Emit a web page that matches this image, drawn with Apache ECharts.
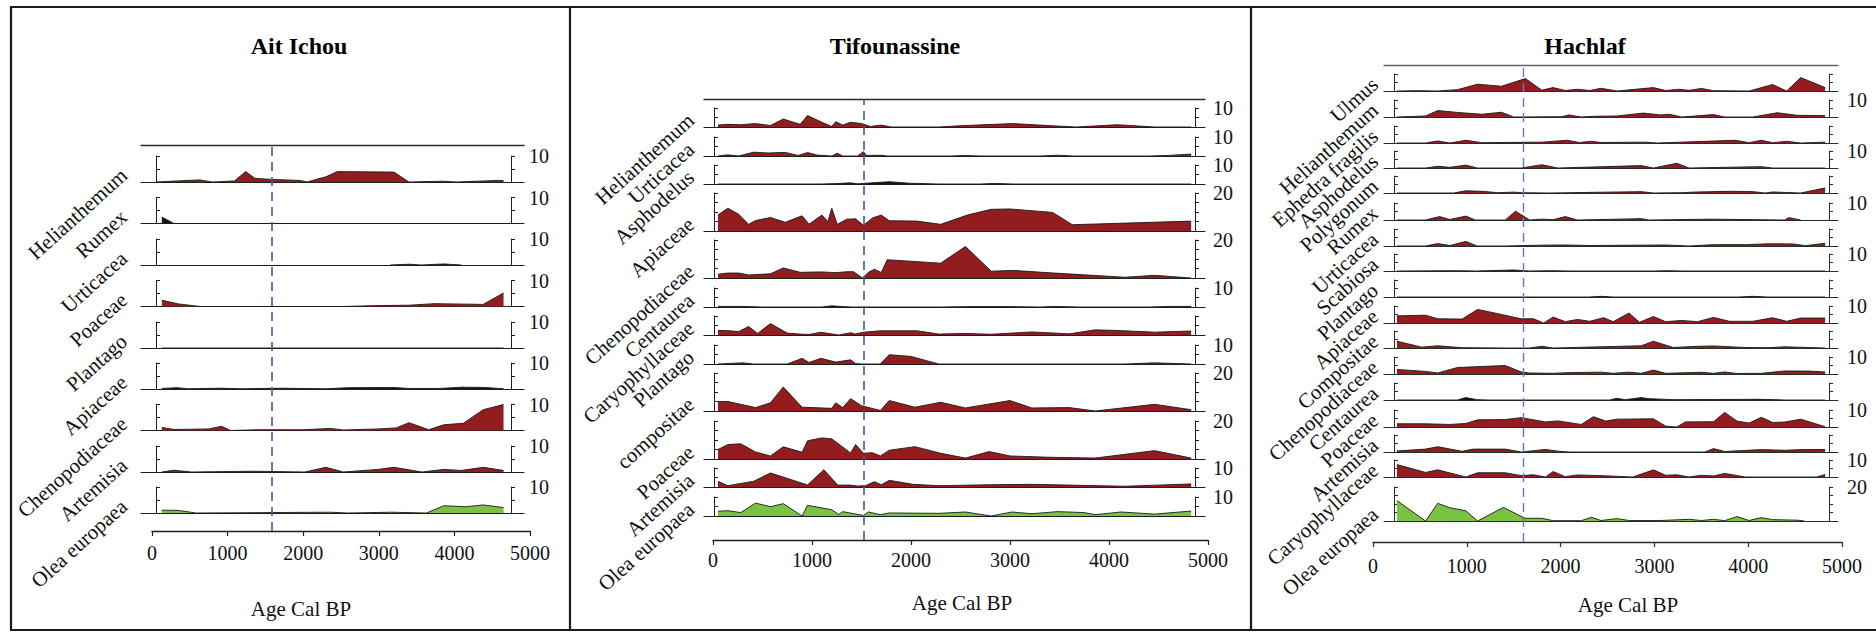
<!DOCTYPE html>
<html><head><meta charset="utf-8">
<script src="https://cdn.jsdelivr.net/npm/echarts@6/dist/echarts.min.js"></script>
<style>html,body{margin:0;padding:0;background:#fff}#c{width:1876px;height:632px}</style>
</head><body><div id="c"></div>
<script>
// ---------------- DATA ----------------
const ageTicks = [0, 1000, 2000, 3000, 4000, 5000];
const xAxisTitle = 'Age Cal BP';

// Ait Ichou
const aitIchouTaxa = ['Helianthemum','Rumex','Urticacea','Poaceae','Plantago','Apiaceae','Chenopodiaceae','Artemisia','Olea europaea'];
const aitIchouScales = [10,10,10,10,10,10,10,10,10];
const aitIchouScaleShown = [1,1,1,1,1,1,1,1,1];
const aitIchouColors = ['r','k','k','r','k','k','r','r','g'];
const aitIchouBoundary = 1585;
const aiHelianthemum = [[60,0],[250,0.3],[630,0.8],[800,0],[1090,0.4],[1240,4],[1360,1.4],[1580,1],[1960,0.6],[2050,0],[2300,2],[2450,4],[3200,3.8],[3400,0],[3850,0.3],[4030,0],[4570,0.6],[4650,0.6]];
const aiRumex = [[130,2.5],[290,0],[4650,0]];
const aiUrticacea = [[3150,0],[3400,0.3],[3560,0],[3860,0.4],[4090,0]];
const aiPoaceae = [[130,2.4],[350,1],[640,0],[2530,0],[2880,0.3],[3400,0.5],[3740,1.1],[4380,0.8],[4650,5.2]];
const aiPlantago = [[130,0],[4650,0]];
const aiApiaceae = [[130,0.2],[330,0.5],[470,0.1],[900,0.3],[1200,0.1],[1700,0.3],[2300,0.1],[2600,0.5],[3200,0.6],[3400,0.2],[3800,0.2],[4100,0.7],[4400,0.6],[4650,0.1]];
const aiChenopodiaceae = [[130,1.2],[290,0.4],[750,0.6],[920,1.6],[1040,0],[1400,0.3],[2000,0.3],[2360,0.8],[2530,0.2],[2990,0.6],[3230,1],[3400,3],[3660,0.3],[3860,2.2],[4120,2.8],[4380,8],[4650,10]];
const aiArtemisia = [[130,0],[290,0.7],[520,0],[1330,0.3],[2020,0],[2300,1.8],[2530,0],[2990,1],[3200,1.8],[3570,0],[3860,1],[4090,0.6],[4380,1.8],[4650,0.6]];
const aiOlea = [[130,1.1],[350,1],[580,0],[2360,0.3],[2590,0],[3170,0.3],[3630,0],[3860,2.8],[4150,2.4],[4380,3.1],[4650,2.1]];

// Tifounassine
const tifounassineTaxa = ['Helianthemum','Urticacea','Asphodelus','Apiaceae','Chenopodiaceae','Centaurea','Caryophyllaceae','Plantago','compositae','Poaceae','Artemisia','Olea europaea'];
const tifounassineScales = [10,10,10,20,20,10,10,10,20,20,10,10];
const tifounassineScaleShown = [1,1,1,1,1,1,0,1,1,1,1,1];
const tifounassineColors = ['r','r','k','r','r','k','r','r','r','r','r','g'];
const tifounassineBoundary = 1525;
const tfHelianthemum = [[50,1],[150,1.4],[280,1.2],[430,1.8],[580,0.8],[710,4.2],[880,1.4],[955,6],[1100,2.5],[1200,0.3],[1240,2.8],[1310,1],[1390,2.5],[1500,1.8],[1590,0.3],[1700,1],[1800,0],[2280,0],[2510,0.7],[3030,1.8],[3410,0.7],[3670,0],[4080,1.2],[4460,0],[4830,0]];
const tfUrticacea = [[50,0],[150,0.6],[260,0],[410,2],[560,1.6],[730,1.9],[860,0.3],[955,1.8],[1050,0.5],[1200,0],[1255,1.5],[1310,0],[1460,0],[1520,2.3],[1550,0.3],[1700,0.4],[1760,0],[2400,0],[2550,0.3],[2700,0],[3300,0],[3480,0.4],[3650,0],[4400,0],[4600,0.3],[4830,1]];
const tfAsphodelus = [[50,0],[1100,0],[1240,0.2],[1390,0.6],[1460,0.1],[1780,1.2],[1990,0.4],[2280,0],[2700,0],[2850,0.3],[3030,0],[4830,0]];
const tfApiaceae = [[50,8.4],[150,12],[260,8.8],[360,3.5],[430,5.5],[580,7.1],[730,4.6],[900,8],[970,3.6],[1100,8.4],[1160,5],[1200,12],[1255,3.5],[1350,6.2],[1440,6.4],[1520,3],[1610,6.8],[1700,8.4],[1780,5.4],[2060,5.2],[2300,3.5],[2570,8.4],[2810,11.4],[3000,11.6],[3430,9.8],[3630,3.3],[4830,5.2]];
const tfChenopodiaceae = [[50,2],[150,2.6],[260,2.6],[360,1.6],[580,2.2],[710,5.3],[880,3],[1100,3.2],[1240,2.8],[1350,3.3],[1420,3.3],[1510,0],[1570,3],[1630,4.6],[1700,2.9],[1760,9.6],[2300,7.8],[2550,16.6],[2810,3.6],[3030,4],[3410,2.7],[4160,0.4],[4460,1.4],[4830,0]];
const tfCentaurea = [[50,0.3],[300,0.3],[500,0],[1100,0],[1200,0.6],[1310,0.2],[1400,0],[2300,0],[2600,0.2],[3000,0.2],[3300,0],[3450,0.3],[3700,0],[4400,0],[4600,0.3],[4830,0.3]];
const tfCaryophyllaceae = [[50,2.4],[150,2.3],[260,1.8],[360,4.5],[450,0.8],[580,6],[750,1],[900,0.4],[970,0.3],[1090,1.4],[1270,0],[1390,1.2],[1440,0.5],[1520,1.5],[1690,2.2],[2060,2.2],[2280,0.5],[2550,0.8],[2810,0.4],[3220,1.6],[3600,0.6],[3860,2.7],[4080,2.4],[4460,1.5],[4830,2.1]];
const tfPlantago = [[50,0],[300,0.6],[410,0],[750,0],[900,3],[970,0.8],[1090,3],[1240,1],[1390,2.2],[1440,0.2],[1500,0],[1690,0],[1780,4.9],[2000,4],[2280,0],[4160,0],[4460,0.6],[4830,0]];
const tfCompositae = [[50,5],[150,5],[430,1.8],[580,4.3],[710,12.6],[900,2],[1200,1.4],[1240,4.3],[1310,1.8],[1390,6.5],[1500,2.8],[1690,0.3],[1780,5.5],[2040,2],[2300,4.6],[2550,1.6],[3000,5.5],[3220,1.6],[3600,1.8],[3860,0],[4460,3.5],[4830,0.7]];
const tfPoaceae = [[50,5],[150,7.6],[280,8],[430,3.7],[580,1.6],[710,6.4],[900,3.6],[955,9.6],[1100,11.1],[1200,10.6],[1390,3.2],[1440,7.6],[1520,3],[1610,3.3],[1690,1.6],[1780,4.6],[2040,6.5],[2300,3],[2550,0.5],[2790,3.9],[3000,1.6],[3410,0.9],[3860,0.5],[4460,4.4],[4830,0.5]];
const tfArtemisia = [[50,3],[150,0.7],[410,3],[580,7.4],[955,1.1],[1120,9.1],[1260,1],[1390,1],[1460,0.5],[1540,0.7],[1630,2.8],[1700,1.2],[1780,3.5],[2020,1.4],[2280,0.7],[2810,1.2],[3220,1.4],[4160,0.4],[4830,1.6]];
const tfOlea = [[50,2.5],[150,2.8],[280,1.8],[430,6.8],[580,4.9],[710,6.5],[900,0],[955,5.6],[1200,3.3],[1270,0.8],[1310,2.3],[1520,0.3],[1570,2.1],[1690,0.7],[1780,1.6],[2280,1.4],[2550,2.1],[2810,0],[3020,2.1],[3220,1.2],[3480,2.3],[3750,1.8],[3860,0.7],[4120,2.1],[4460,1],[4830,2.6]];

// Hachlaf
const hachlafTaxa = ['Ulmus','Helianthemum','Ephedra fragilis','Asphodelus','Polygonum','Rumex','Urticacea','Scabiosa','Plantago','Apiaceae','Compositae','Chenopodiaceae','Centaurea','Poaceae','Artemisia','Caryophyllaceae','Olea europaea'];
const hachlafScales = [10,10,10,10,10,10,10,10,10,10,10,10,10,10,10,10,20];
const hachlafScaleShown = [0,1,0,1,0,1,0,1,0,1,0,1,0,1,0,1,1];
const hachlafColors = ['r','r','r','r','r','r','r','k','k','r','r','r','k','r','r','r','g'];
const hachlafBoundary = 1600;
const hcUlmus = [[255,0],[480,0.2],[690,0],[900,0.8],[1115,4],[1370,2.8],[1625,7.3],[1800,0.5],[1920,2],[2050,0.3],[2180,1],[2310,0.3],[2430,1.6],[2600,0],[2990,2],[3120,0.3],[3260,1],[3370,0.4],[3500,1.5],[3630,0.2],[4010,0],[4260,3.8],[4410,0],[4560,7.9],[4820,2]];
const hcHelianthemum = [[255,0],[560,0.6],[690,3.8],[900,2.7],[1160,1.6],[1370,2.8],[1500,0],[2010,0.2],[2090,1.2],[2220,0],[2350,0.4],[2600,0.6],[2880,2.3],[3070,1.2],[3160,1.6],[3290,0],[3630,1.4],[3750,0],[4050,0],[4310,2.5],[4520,1],[4820,0.8]];
const hcEphedra = [[255,0],[560,0],[690,1.2],[820,0],[990,1.6],[1160,0.2],[1580,0.4],[1800,0.5],[2070,1.6],[2200,0.3],[2330,1],[2430,0.3],[2900,0.5],[3030,0],[3860,1.6],[4010,0.2],[4140,1.6],[4260,0.2],[4410,1],[4560,0],[4820,0.5]];
const hcAsphodelus = [[255,0],[560,0],[690,1],[820,0.4],[990,1.7],[1110,0],[1580,0],[1800,1.9],[1970,0],[2860,1.4],[2990,0],[3240,2.8],[3370,0],[4140,0.8],[4260,0],[4820,0]];
const hcPolygonum = [[255,0],[860,0],[990,1.3],[1160,1],[1330,0.2],[1500,0.5],[1580,0.2],[1880,0],[2860,0.8],[2990,0],[3290,0.2],[3460,0.6],[3800,1],[4050,0.8],[4180,0],[4260,0.6],[4560,0],[4820,3]];
const hcRumex = [[255,0],[560,0],[710,2],[820,0.3],[990,2.3],[1090,0],[1410,0],[1520,5.2],[1670,0],[1800,0.5],[1920,0.2],[2050,2],[2180,0],[2860,0.8],[2940,0],[3630,0.5],[4390,0],[4430,1.4],[4560,0]];
const hcUrticacea = [[255,0],[560,0],[690,1.4],[820,0.3],[990,2.7],[1110,0],[1410,0],[1800,0.5],[2050,0.6],[2310,0.3],[3120,0.6],[3370,0],[3630,0.8],[3970,0.8],[4220,1.3],[4480,1.2],[4610,0.2],[4820,1.6]];
const hcScabiosa = [[255,0],[900,0.2],[1100,0],[1500,0.6],[1670,0],[1880,0.2],[2100,0],[3000,0],[3120,0.2],[3300,0],[4820,0]];
const hcPlantago = [[255,0],[2300,0],[2430,0.4],[2560,0],[3900,0],[4050,0.4],[4200,0],[4820,0]];
const hcApiaceae = [[255,4.2],[560,4.6],[690,2.5],[950,2.3],[1115,8],[1330,5.5],[1580,2.5],[1710,2.5],[1820,0],[1920,3.5],[2050,0.8],[2180,2.1],[2310,1],[2460,3.1],[2560,0.8],[2730,5.9],[2840,0.4],[2990,3.8],[3120,0.8],[3290,1.5],[3460,0.8],[3630,3.3],[3800,1],[4050,1],[4260,3.1],[4410,1],[4560,2.9],[4820,2.9]];
const hcCompositae = [[255,4],[520,0.5],[690,1.3],[950,0.2],[1410,0],[1670,0],[1800,1],[1920,0],[2860,1.3],[2990,4],[3200,0.3],[3460,1],[3630,1.2],[3970,0.3],[4220,0.2],[4390,0.7],[4820,0]];
const hcChenopodiaceae = [[255,2.7],[560,1.5],[690,0.6],[900,3.8],[1070,4.2],[1410,5],[1580,1.2],[1670,0.6],[1920,0.4],[2090,0.8],[2430,1.1],[2560,0.4],[2730,1.1],[2860,0.4],[2990,2.3],[3120,0.4],[3500,1],[3630,0.4],[3750,1.2],[3880,0.3],[4140,0.4],[4390,1.8],[4650,1.7],[4820,1.2]];
const hcCentaurea = [[255,0],[900,0],[990,1.4],[1110,0.2],[1240,0],[2520,0],[2600,1],[2690,0.2],[2860,1.4],[2940,0.8],[3200,0.2],[3630,0.3],[4140,0.4],[4390,0],[4820,0]];
const hcPoaceae = [[255,1.9],[560,1.9],[820,1.5],[990,2.1],[1115,4.2],[1410,4.4],[1580,5.5],[1840,3],[1970,3.6],[2220,1.5],[2350,6.1],[2480,3.5],[2600,4.6],[2990,4.8],[3120,0.5],[3240,0],[3330,3],[3630,3.1],[3750,8.6],[3880,3.5],[4010,2.3],[4140,5.7],[4260,2.7],[4390,2.9],[4560,4.6],[4820,0.2]];
const hcArtemisia = [[255,0.6],[560,1.7],[690,3.1],[950,0.4],[1070,1.7],[1410,1.7],[1580,0],[1840,1.5],[1970,0.5],[2090,0],[3540,0],[3630,2],[3750,0.3],[4140,1.4],[4390,1],[4560,1.4],[4820,1.5]];
const hcCaryophyllaceae = [[255,7.3],[560,2.7],[690,4.2],[990,0],[1115,2.5],[1410,2.5],[1580,0.8],[1710,1.3],[1840,0],[1920,3.2],[2050,0.2],[2180,1.2],[2430,0.8],[2770,0],[2990,4.2],[3120,1],[3240,1.3],[3370,0],[3500,1],[3630,0.6],[3750,2.1],[3970,0],[4730,0],[4820,1.5]];
const hcOlea = [[255,12],[560,0],[690,10.4],[820,7.8],[990,6],[1115,0],[1390,8],[1620,1.6],[1800,1.6],[1920,0.2],[2220,0.2],[2330,2.2],[2430,0.3],[2600,1.4],[2730,0.3],[3070,0.3],[3370,1],[3500,0.3],[3630,1],[3750,0.2],[3880,2.6],[4010,0.3],[4140,2],[4260,0.8],[4520,0.5],[4600,0]];

// ---------------- LAYOUT / STYLE ----------------
const FONT = '"Liberation Serif","Times New Roman",serif';
const FILL = {r:'#921c1e', k:'#151515', g:'#79c244'};
const LABEL_ANGLE = 42 * Math.PI / 180;

const panels = [
  {title:'Ait Ichou', taxa:aitIchouTaxa, scales:aitIchouScales, shown:aitIchouScaleShown, colors:aitIchouColors, boundary:aitIchouBoundary,
   series:[aiHelianthemum, aiRumex, aiUrticacea, aiPoaceae, aiPlantago, aiApiaceae, aiChenopodiaceae, aiArtemisia, aiOlea],
   L:{titleX:299, age0:152, age5000:530, stripL:141, stripR:524, axL:156, axR:511, topLine:145, axisY:531,
      baselines:[182,223.5,265,306.5,348,389,430.5,472,513], ppu:2.6, labelGap:10, labelOffY:8, tickMargin:12,
      nameX:301, nameY:609, line:'#1e1e1e', top:'#2a2a2a', dash:'#3d5c9c', dashW:1.6}},
  {title:'Tifounassine', taxa:tifounassineTaxa, scales:tifounassineScales, shown:tifounassineScaleShown, colors:tifounassineColors, boundary:tifounassineBoundary,
   series:[tfHelianthemum, tfUrticacea, tfAsphodelus, tfApiaceae, tfChenopodiaceae, tfCentaurea, tfCaryophyllaceae, tfPlantago, tfCompositae, tfPoaceae, tfArtemisia, tfOlea],
   L:{titleX:895, age0:713, age5000:1208, stripL:704, stripR:1205, axL:714, axR:1195, topLine:99, axisY:540,
      baselines:[127,156,184,231,278,307,335,364,411,459,487,516], ppu:1.9, labelGap:6, labelOffY:4, tickMargin:10,
      nameX:962, nameY:603, line:'#1e1e1e', top:'#2a2a2a', dash:'#3d5c9c', dashW:1.6}},
  {title:'Hachlaf', taxa:hachlafTaxa, scales:hachlafScales, shown:hachlafScaleShown, colors:hachlafColors, boundary:hachlafBoundary,
   series:[hcUlmus, hcHelianthemum, hcEphedra, hcAsphodelus, hcPolygonum, hcRumex, hcUrticacea, hcScabiosa, hcPlantago, hcApiaceae, hcCompositae, hcChenopodiaceae, hcCentaurea, hcPoaceae, hcArtemisia, hcCaryophyllaceae, hcOlea],
   L:{titleX:1585, age0:1373, age5000:1842, stripL:1384, stripR:1838, axL:1394, axR:1829, topLine:65, axisY:542,
      baselines:[91,117,143,168,193,220,246,271,297,323,348,374,400,427,452,477,521], ppu:1.7, labelGap:2, labelOffY:3, tickMargin:14,
      nameX:1628, nameY:605, line:'#2a2a2a', top:'#666', dash:'#6679bd', dashW:1.4}}
];

const option = {animation:false, backgroundColor:'#fff', grid:[], xAxis:[], yAxis:[], series:[], graphic:[]};
const noSplit = {show:false};

panels.forEach(p => {
  const L = p.L;
  const k = (L.age5000 - L.age0) / (ageTicks[ageTicks.length-1] - ageTicks[0]);
  const xmin = ageTicks[0] + (L.stripL - L.age0) / k;
  const xmax = ageTicks[0] + (L.stripR - L.age0) / k;

  option.graphic.push({type:'text', x:L.titleX, y:46, silent:true,
    style:{text:p.title, font:'bold 24px ' + FONT, fill:'#000', align:'center', verticalAlign:'middle', textAlign:'center', textVerticalAlign:'middle'}});

  p.taxa.forEach((name, i) => {
    const scale = p.scales[i];
    const h = scale * L.ppu;
    const base = L.baselines[i];
    const gi = option.grid.length;
    option.grid.push({left:L.stripL, width:L.stripR - L.stripL, top:base - h, height:h, outerBoundsMode:'none', containLabel:false});
    const xi = option.xAxis.length;
    option.xAxis.push({gridIndex:gi, type:'value', min:xmin, max:xmax,
      axisLine:{show:true, onZero:false, lineStyle:{color:L.line, width:1.1}}, axisTick:{show:false}, axisLabel:{show:false}, splitLine:noSplit});
    if (i === 0) {
      option.xAxis.push({gridIndex:gi, type:'value', position:'top', offset:(base - h) - L.topLine, min:xmin, max:xmax,
        axisLine:{show:true, onZero:false, lineStyle:{color:L.top, width:1.4}}, axisTick:{show:false}, axisLabel:{show:false}, splitLine:noSplit});
    }
    const yi = option.yAxis.length;
    option.yAxis.push({gridIndex:gi, type:'value', position:'left', offset:-(L.axL - L.stripL), min:0, max:scale, interval:5,
      axisLine:{show:true, onZero:false, lineStyle:{color:L.line, width:1}},
      axisTick:{show:true, inside:true, length:4, lineStyle:{color:L.line, width:1}},
      axisLabel:{show:false}, splitLine:noSplit});
    option.yAxis.push({gridIndex:gi, type:'value', position:'right', offset:-(L.stripR - L.axR), min:0, max:scale, interval:5,
      axisLine:{show:true, onZero:false, lineStyle:{color:L.line, width:1}},
      axisTick:{show:true, inside:false, length:4, lineStyle:{color:L.line, width:1}},
      axisLabel:{show:true, showMinLabel:false, showMaxLabel:true, hideOverlap:false, margin:18, align:'left',
        fontFamily:FONT, fontSize:20, color:'#111', verticalAlign:'middle', padding:[2 * L.labelOffY, 0, 0, 0],
        formatter:(v) => (v === scale && p.shown[i]) ? String(scale) : ''},
      splitLine:noSplit});
    option.series.push({type:'line', name:p.title + ' ' + name, xAxisIndex:xi, yAxisIndex:yi, data:p.series[i],
      symbol:'none', showSymbol:false, clip:false, silent:true,
      lineStyle:{color:'#1a1a1a', width:0.9}, areaStyle:{color:FILL[p.colors[i]], opacity:1}});
    option.graphic.push({type:'text', x:L.stripL - L.labelGap, y:base - 2, rotation:LABEL_ANGLE, silent:true,
      style:{text:name, font:'21px ' + FONT, fill:'#111', align:'right', verticalAlign:'bottom', textAlign:'right', textVerticalAlign:'bottom'}});
  });

  // age axis + boundary line
  const gi = option.grid.length;
  option.grid.push({left:L.age0, width:L.age5000 - L.age0, top:L.topLine, height:L.axisY - L.topLine, outerBoundsMode:'none', containLabel:false});
  const shift = L.nameX - (L.age0 + L.age5000) / 2;
  const xi = option.xAxis.length;
  option.xAxis.push({gridIndex:gi, type:'value', min:ageTicks[0], max:ageTicks[ageTicks.length-1], interval:ageTicks[1] - ageTicks[0],
    axisLine:{show:true, onZero:false, lineStyle:{color:L.line, width:1.3}},
    axisTick:{show:true, inside:false, length:5, lineStyle:{color:L.line, width:1.2}},
    axisLabel:{show:true, margin:L.tickMargin, fontFamily:FONT, fontSize:20, color:'#111', showMinLabel:true, showMaxLabel:true, hideOverlap:false,
      formatter:(v) => String(v)},
    splitLine:noSplit,
    name:xAxisTitle, nameLocation:'middle', nameGap:L.nameY - L.axisY - 11,
    nameTextStyle:{fontFamily:FONT, fontSize:21, color:'#111',
      padding: shift >= 0 ? [0, 0, 0, 2 * shift] : [0, -2 * shift, 0, 0]}});
  const yi = option.yAxis.length;
  option.yAxis.push({gridIndex:gi, type:'value', show:false, min:0, max:1});
  option.series.push({type:'line', name:p.title + ' boundary', xAxisIndex:xi, yAxisIndex:yi, data:[], symbol:'none', silent:true,
    markLine:{symbol:['none','none'], silent:true, animation:false, label:{show:false},
      lineStyle:{type:[9,6], color:L.dash, width:L.dashW}, data:[{xAxis:p.boundary}]}});
});

// frame
const frame = [[10,7,1876,7],[11,7,11,630],[10,630,1876,630],[570,7,570,630],[1251,7,1251,630]];
frame.forEach(f => option.graphic.push({type:'line', silent:true, shape:{x1:f[0], y1:f[1], x2:f[2], y2:f[3]}, style:{stroke:'#1a1a1a', lineWidth:2.2}}));

const chart = echarts.init(document.getElementById('c'), null, {renderer:'svg', width:1876, height:632});
chart.setOption(option);
</script>
</body></html>
